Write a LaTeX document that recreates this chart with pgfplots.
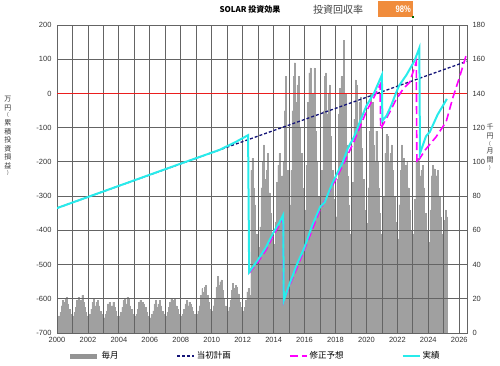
\documentclass[border=0pt]{standalone}
\usepackage{fontspec}
\setmainfont{Liberation Sans}
\newfontfamily\cjk{Noto Sans CJK JP}
\usepackage{pgfplots}
\usepackage{pgfplotstable}
\pgfplotsset{compat=1.18}
\definecolor{gridc}{RGB}{100,100,100}
\definecolor{barfill}{RGB}{196,196,196}
\definecolor{baredge}{RGB}{160,160,160}
\definecolor{planc}{RGB}{20,20,120}
\definecolor{revc}{RGB}{255,0,255}
\definecolor{actc}{RGB}{40,235,235}
\definecolor{zeroc}{RGB}{235,30,30}
\definecolor{boxc}{RGB}{240,140,60}

% monthly values (thousand yen), Jan 2000 .. Mar 2025
\pgfplotstableread[row sep=\\]{
y\\
9\\10\\12\\16\\19\\18\\20\\21\\17\\14\\11\\9\\
10\\12\\15\\19\\21\\17\\19\\22\\18\\15\\12\\10\\
10\\11\\14\\18\\20\\16\\18\\19\\16\\13\\11\\9\\
9\\11\\13\\17\\18\\15\\16\\18\\15\\13\\10\\9\\
10\\12\\15\\19\\20\\17\\21\\20\\16\\14\\11\\10\\
10\\11\\14\\18\\19\\16\\18\\17\\15\\12\\10\\9\\
9\\11\\13\\17\\19\\15\\17\\19\\16\\13\\11\\9\\
10\\12\\15\\18\\20\\17\\19\\20\\16\\14\\11\\10\\
10\\11\\14\\17\\19\\16\\18\\17\\15\\13\\11\\10\\
11\\13\\16\\22\\26\\24\\27\\28\\22\\18\\14\\12\\
13\\16\\20\\27\\33\\28\\30\\31\\25\\20\\16\\13\\
13\\15\\19\\25\\29\\26\\28\\27\\23\\18\\15\\12\\
13\\15\\19\\24\\26\\22\\95\\102\\85\\75\\58\\48\\
50\\62\\85\\100\\110\\90\\95\\105\\82\\70\\55\\45\\
52\\65\\88\\98\\105\\88\\92\\100\\130\\150\\95\\70\\
75\\95\\130\\150\\158\\135\\145\\150\\120\\105\\85\\70\\
72\\98\\135\\152\\155\\130\\140\\155\\118\\100\\80\\65\\
70\\95\\130\\150\\152\\128\\140\\145\\115\\95\\78\\62\\
68\\90\\128\\143\\150\\125\\171\\140\\110\\92\\75\\58\\
65\\88\\125\\148\\145\\120\\135\\138\\108\\90\\72\\60\\
64\\85\\118\\140\\135\\110\\100\\118\\100\\85\\70\\58\\
60\\80\\105\\116\\115\\100\\105\\110\\95\\80\\65\\55\\
55\\75\\95\\110\\102\\90\\98\\100\\85\\72\\60\\53\\
58\\78\\100\\102\\100\\92\\95\\98\\85\\70\\60\\52\\
53\\72\\92\\98\\96\\88\\92\\95\\80\\68\\58\\50\\
66\\72\\68\\
}\bardata

\begin{document}
\begin{tikzpicture}
\useasboundingbox (-57pt,-32pt) rectangle (443pt,333pt);
\begin{axis}[
  scale only axis, width=410pt, height=308pt,
  at={(0pt,0pt)}, anchor=south west,
  xmin=2000, xmax=2026.5, ymin=0, ymax=180,
  xtick={2000,2002,...,2026},
  ytick={0,20,...,180},
  yticklabel pos=right,
  axis line style={gridc, line width=0.8pt},
  tick style={draw=none},
  tick label style={font=\fontsize{7.5}{9}\selectfont, text=black!80},
  /pgf/number format/1000 sep={},
  /pgf/number format/assume math mode=true,
  xticklabel style={yshift=-1pt},
  yticklabel style={xshift=2pt},
]
\addplot[ybar, bar width=0.06, bar shift=0pt, fill=barfill, draw=baredge, line width=0.08pt]
  table[x expr={2000+(\coordindex+0.5)/12}, y=y]{\bardata};
\end{axis}
\begin{axis}[
  scale only axis, width=410pt, height=308pt,
  at={(0pt,0pt)}, anchor=south west,
  xmin=2000, xmax=2026.5, ymin=-700, ymax=200,
  xtick={2000,2001,...,2026}, xticklabels={},
  ytick={-700,-600,...,200},
  grid=major,
  major grid style={draw=gridc, line width=0.8pt},
  axis line style={gridc, line width=0.8pt},
  tick style={draw=none},
  tick label style={font=\fontsize{7.5}{9}\selectfont, text=black!80},
  /pgf/number format/assume math mode=true,
  yticklabel style={xshift=-2pt},
  legend columns=4,
  legend style={draw=none, fill=none, at={(axis description cs:0.018,-0.075)}, anchor=west,
    font=\cjk\fontsize{8.5}{10}\selectfont,
    /tikz/every even column/.append style={column sep=56pt}},
]
\addplot[zeroc, line width=1.8pt, forget plot] coordinates {(2000,0) (2026.5,0)};
\addlegendimage{legend image code/.code={\draw[line width=5pt, color=black!42] (0pt,0pt) -- (27pt,0pt);}}
\addlegendentry{毎月}
\addplot[planc, line width=1.3pt, dash pattern=on 3pt off 2pt] coordinates {(2000,-335) (2026.5,94)};
\addlegendentry{当初計画}
\addplot[revc, line width=1.6pt, dash pattern=on 8pt off 4pt] coordinates {
(2012.42,-525) (2013.0,-492) (2013.5,-458) (2014.0,-413) (2014.4,-382) (2014.62,-362)
(2014.65,-608) (2015.0,-565) (2016.0,-455) (2017.0,-340) (2017.8,-270) (2018.45,-212)
(2019.2,-140) (2020.0,-52) (2020.5,-10) (2020.88,25) (2020.92,-104) (2021.5,-55)
(2021.9,-19) (2022.4,15) (2022.8,33) (2023.22,92) (2023.26,-203) (2023.8,-165)
(2024.5,-127) (2025.15,-83) (2025.6,-10) (2026.0,45) (2026.45,112)};
\addlegendentry{修正予想}
\addplot[actc, line width=2pt] coordinates {
(2000,-335) (2004,-270) (2008,-205) (2010.5,-165) (2011.5,-143) (2012.35,-122)
(2012.42,-522) (2013.0,-485) (2013.5,-450) (2014.0,-405) (2014.4,-375) (2014.62,-355)
(2014.66,-605) (2015.0,-560) (2015.5,-500) (2016.0,-449) (2016.5,-385) (2017.0,-332)
(2017.3,-318) (2017.8,-262) (2018.2,-225) (2018.45,-203) (2018.8,-160) (2019.2,-127)
(2019.6,-80) (2020.0,-36) (2020.5,2) (2021.0,54) (2021.03,-80) (2021.3,-65)
(2021.6,-35) (2021.9,0) (2022.1,22) (2022.6,55) (2023.1,95) (2023.42,133)
(2023.46,-175) (2023.85,-125) (2024.1,-112) (2024.6,-62) (2025.2,-16)};
\addlegendentry{実績}
\end{axis}
% axis labels (stacked characters)
\begin{scope}[every node/.style={font=\cjk\fontsize{7}{8}\selectfont, inner sep=0pt, text=black!80}]
\node at (-49pt,234pt) {万};
\node at (-49pt,225pt) {円};
\node[font=\cjk\fontsize{5}{6}\selectfont] at (-49pt,218pt) {(};
\node at (-49pt,210pt) {累};
\node at (-49pt,201.5pt) {積};
\node at (-49pt,193pt) {投};
\node at (-49pt,184.5pt) {資};
\node at (-49pt,176pt) {損};
\node at (-49pt,167.5pt) {益};
\node[font=\cjk\fontsize{5}{6}\selectfont] at (-49pt,160pt) {)};
\node at (433pt,206pt) {千};
\node at (433pt,197pt) {円};
\node[font=\cjk\fontsize{5}{6}\selectfont] at (433pt,189.5pt) {(};
\node at (433pt,182pt) {月};
\node at (433pt,173pt) {間};
\node[font=\cjk\fontsize{5}{6}\selectfont] at (433pt,165pt) {)};
\end{scope}
% title
\node[font=\cjk\bfseries\fontsize{8}{9}\selectfont, inner sep=0pt] at (193pt,323.5pt) {SOLAR 投資効果};
\node[font=\cjk\fontsize{10}{12}\selectfont, text=black!75, inner sep=0pt] at (281pt,323pt) {投資回収率};
\fill[boxc] (321pt,316pt) rectangle (356pt,332pt);
\node[font=\bfseries\fontsize{9.5}{11}\selectfont, text=white, anchor=east, inner sep=0pt, xscale=0.8, transform shape] at (354pt,324pt) {98\%};
\fill[green!40!black] (355pt,315pt) rectangle (357pt,317pt);
\end{tikzpicture}
\end{document}
